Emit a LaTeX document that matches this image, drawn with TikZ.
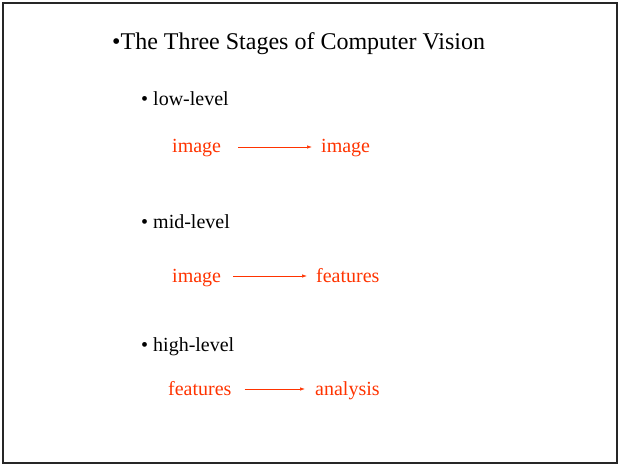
\documentclass[tikz,border=0pt]{standalone}
\usepackage{fontspec}
\setmainfont{Liberation Serif}
\usetikzlibrary{arrows.meta}
\definecolor{slred}{RGB}{255,51,0}
\begin{document}
\begin{tikzpicture}[x=1pt,y=-1pt,
  title/.style={anchor=base west,inner sep=0pt,font=\fontsize{24}{28}\selectfont},
  item/.style={anchor=base west,inner sep=0pt,font=\fontsize{20}{24}\selectfont},
  term/.style={anchor=base west,inner sep=0pt,text=slred,font=\fontsize{20}{24}\selectfont},
  flow/.style={draw=slred,line width=0.7pt,-{Latex[length=5pt,width=3.5pt]}}]
\useasboundingbox (0,0) rectangle (619,465);
\draw[line width=2pt,black!85] (3,3) rectangle (617,463);
\node[title] (t) at (112,50) {\textbullet The Three Stages of Computer Vision};
\node[item] (l1) at (141,106) {\textbullet\ low-level};
\node[term] (a1) at (172,153) {image};
\node[term] (b1) at (321,153) {image};
\draw[flow,shorten <=17pt,shorten >=9pt] (a1.east |- 0,147) -- (b1.west |- 0,147);
\node[item] (l2) at (141,229) {\textbullet\ mid-level};
\node[term] (a2) at (172,283) {image};
\node[term] (b2) at (316,283) {features};
\draw[flow,shorten <=12pt,shorten >=9pt] (a2.east |- 0,276) -- (b2.west |- 0,276);
\node[item] (l3) at (141,352) {\textbullet\ high-level};
\node[term] (a3) at (168,395) {features};
\node[term] (b3) at (315,395) {analysis};
\draw[flow,shorten <=13pt,shorten >=10pt] (a3.east |- 0,389) -- (b3.west |- 0,389);
\end{tikzpicture}
\end{document}
